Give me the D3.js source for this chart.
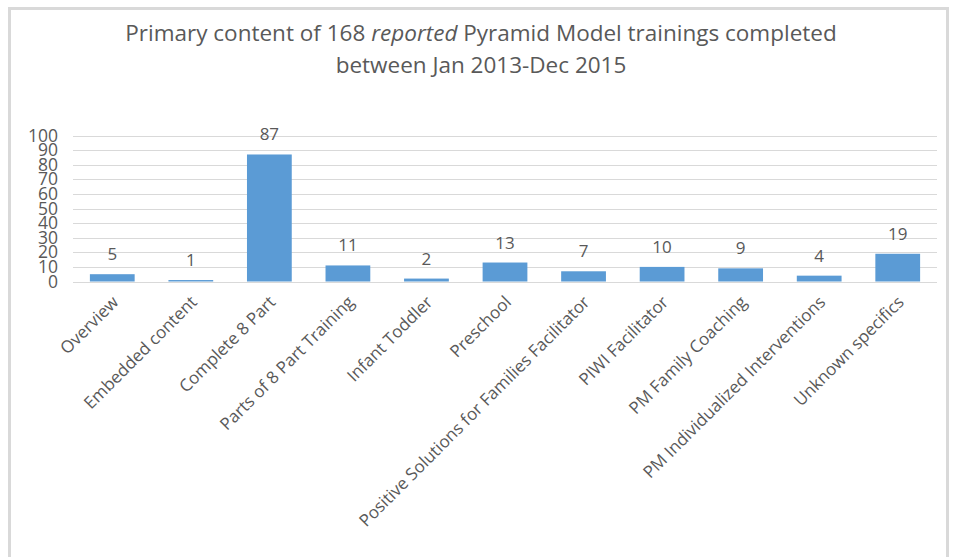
<!DOCTYPE html>
<html>
<head>
<meta charset="utf-8">
<script src="https://cdn.jsdelivr.net/npm/d3@7"></script>
<style>
  body { margin: 0; background: #fff; }
  svg text { font-family: "Open Sans", "Liberation Sans", sans-serif; fill: #595959; }
</style>
</head>
<body>
<svg id="chart" width="953" height="557"></svg>
<script>
const categories = ["Overview", "Embedded content", "Complete 8 Part", "Parts of 8 Part Training",
  "Infant Toddler", "Preschool", "Positive Solutions for Families Facilitator", "PIWI Facilitator",
  "PM Family Coaching", "PM Individualized Interventions", "Unknown specifics"];
const counts = [5, 1, 87, 11, 2, 13, 7, 10, 9, 4, 19];
const yTicks = [0, 10, 20, 30, 40, 50, 60, 70, 80, 90, 100];

const svg = d3.select("#chart");

// frame
svg.append("rect")
  .attr("x", 9.5).attr("y", 8.5)
  .attr("width", 938).attr("height", 560)
  .attr("fill", "none")
  .attr("stroke", "#d9d9d9")
  .attr("stroke-width", 3);

// title
const title = svg.append("text")
  .attr("x", 481)
  .attr("text-anchor", "middle")
  .style("font-size", "22.5px");
const t1 = title.append("tspan").attr("x", 481).attr("y", 41);
t1.append("tspan").text("Primary content of 168 ");
t1.append("tspan").style("font-style", "italic").text("reported");
t1.append("tspan").text(" Pyramid Model trainings completed");
title.append("tspan").attr("x", 481).attr("y", 73).text("between Jan 2013-Dec 2015");

// scales
let x = d3.scaleBand().domain(categories).range([73, 937]).paddingInner(0.43).paddingOuter(0.215);
let y = d3.scaleLinear().domain([0, 100]).range([281.5, 135.5]);

// grid
svg.append("g")
  .selectAll("line")
  .data(yTicks)
  .enter()
  .append("line")
  .attr("x1", 73).attr("x2", 937)
  .attr("y1", d => Math.round(y(d)) + 0.5)
  .attr("y2", d => Math.round(y(d)) + 0.5)
  .attr("stroke", "#d9d9d9");

// y axis labels
const yAxis = svg.append("g")
  .attr("transform", "translate(58,0)")
  .call(d3.axisLeft(y).tickValues(yTicks).tickSize(0).tickPadding(0));
yAxis.select(".domain").remove();
yAxis.selectAll("text")
  .style("font-size", "17.5px")
  .style("font-family", "\"Open Sans\", sans-serif")
  .attr("fill", "#595959");

// bars
svg.append("g")
  .selectAll("rect")
  .data(counts)
  .enter()
  .append("rect")
  .attr("x", (d, i) => x(categories[i]))
  .attr("y", d => y(d))
  .attr("width", x.bandwidth())
  .attr("height", d => y(0) - y(d))
  .attr("fill", "#5b9bd5");

// value labels
svg.append("g")
  .selectAll("text")
  .data(counts)
  .enter()
  .append("text")
  .attr("x", (d, i) => x(categories[i]) + x.bandwidth() / 2)
  .attr("y", d => y(d) - 14)
  .attr("text-anchor", "middle")
  .style("font-size", "17px")
  .text(d => d);

// category labels
svg.append("g")
  .selectAll("text")
  .data(categories)
  .enter()
  .append("text")
  .attr("transform", d => "translate(" + (x(d) + x.bandwidth() / 2 + 3) + ",299) rotate(-45)")
  .attr("text-anchor", "end")
  .attr("dy", "0.35em")
  .style("font-size", "17px")
  .text(d => d);
</script>
</body>
</html>
